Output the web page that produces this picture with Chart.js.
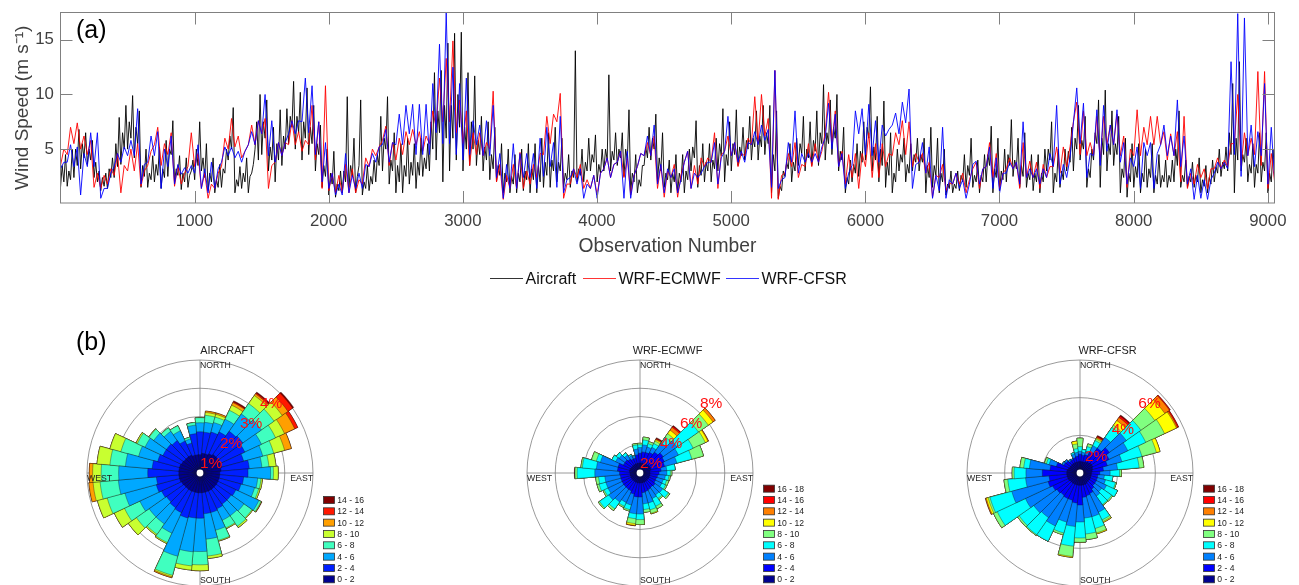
<!DOCTYPE html>
<html>
<head>
<meta charset="utf-8">
<script src="https://cdn.jsdelivr.net/npm/chart.js@4"></script>
<style>
html,body{margin:0;padding:0;background:#fff;width:1299px;height:585px;overflow:hidden}
canvas{position:absolute;display:block}
</style>
</head>
<body>
<canvas id="series" width="1299" height="300" style="left:0;top:0"></canvas>
<canvas id="rose1" width="300" height="260" style="left:70px;top:330px"></canvas>
<canvas id="rose2" width="300" height="260" style="left:510px;top:330px"></canvas>
<canvas id="rose3" width="300" height="260" style="left:950px;top:330px"></canvas>
<script>
const aircraft = [
1.5,3.5,2.0,4.5,1.6,3.0,2.2,5.0,2.4,5.0,3.5,6.8,3.2,5.5,4.2,6.5,3.6,5.0,4.0,5.8,2.4,3.8,2.0,3.0,1.2,2.4,1.6,2.8,1.4,3.2,2.4,4.2,2.4,5.5,3.4,7.9,3.6,6.5,5.0,9.0,
5.0,7.5,6.0,9.9,4.2,7.0,5.5,8.5,1.5,3.5,2.5,5.0,1.5,2.8,2.2,4.4,2.0,3.6,2.6,5.2,1.4,3.2,2.4,5.8,2.5,5.0,4.5,7.6,2.0,3.2,2.6,4.4,1.3,2.8,2.0,4.2,1.5,2.6,3.0,4.0,
2.2,5.0,3.5,7.5,3.0,4.2,2.4,5.5,1.2,2.8,2.0,4.2,1.0,2.2,1.5,3.6,1.5,3.2,2.8,5.0,4.0,6.2,5.0,8.8,1.0,2.2,1.6,3.4,1.4,2.8,2.0,4.2,1.0,2.5,2.8,3.6,5.0,7.5,4.0,10.0,
4.5,7.5,6.0,9.5,3.0,5.2,4.0,7.0,2.0,5.5,4.0,8.6,3.5,6.2,5.0,8.7,5.5,8.0,7.0,11.2,5.0,8.0,6.5,10.2,4.0,7.5,6.0,10.6,4.5,7.0,5.5,9.0,3.0,5.5,4.5,7.2,1.5,3.5,2.5,5.0,
0.8,2.8,1.8,4.8,0.6,1.8,1.2,3.0,1.0,3.0,2.0,9.8,1.5,3.5,2.5,6.0,1.0,2.5,3.5,9.5,0.8,2.0,1.4,3.5,1.2,2.5,1.8,4.0,2.0,4.5,3.5,8.0,3.0,6.0,5.0,9.8,1.8,4.0,3.0,6.5,
1.0,3.5,2.0,5.5,1.0,3.5,2.5,6.0,1.8,3.8,2.6,5.5,1.4,3.8,2.6,6.0,2.5,4.2,3.2,5.5,3.0,7.5,5.0,12.0,4.0,8.5,6.5,12.2,2.0,9.0,6.0,14.7,3.0,9.0,6.0,15.6,4.0,10.0,7.0,15.7,
3.0,7.0,5.0,12.0,3.5,7.5,5.0,11.7,3.5,5.8,4.5,8.0,3.0,5.2,4.0,7.5,2.2,4.5,3.2,7.0,2.0,3.5,2.6,5.5,1.0,2.8,2.0,5.0,1.0,2.5,1.8,4.5,1.0,2.8,2.0,5.0,1.2,3.0,2.2,5.5,
1.0,3.2,2.2,5.5,1.0,3.5,2.0,6.0,1.5,3.8,2.6,6.5,1.5,4.0,3.0,7.0,2.0,3.8,3.0,6.0,1.5,2.8,2.2,4.5,1.5,3.0,2.4,14.0,2.0,3.2,2.6,5.0,2.0,3.8,3.0,6.0,3.0,4.5,3.8,6.3,
2.0,3.6,2.8,5.0,3.0,5.0,4.0,11.8,3.0,4.8,4.0,6.5,3.5,5.0,4.2,6.5,2.5,5.0,4.0,8.6,1.0,2.8,2.0,4.5,1.0,2.2,1.6,3.5,3.5,5.2,4.2,7.0,4.0,6.0,5.0,8.2,2.0,4.2,3.0,6.5,
1.5,2.8,2.2,4.0,1.0,2.8,2.0,4.5,1.0,2.8,2.0,4.5,1.0,3.0,2.2,5.0,3.0,5.2,4.2,7.6,1.5,3.5,2.6,5.5,2.0,3.8,3.0,5.5,2.0,4.0,3.2,6.0,3.0,5.5,4.4,8.7,2.0,4.5,3.5,7.5,
3.0,5.5,4.5,8.6,3.5,5.2,4.4,7.0,4.0,5.8,5.0,8.0,4.0,6.0,5.2,8.5,4.0,6.2,5.2,9.0,4.5,6.5,5.5,9.0,1.0,4.5,3.0,8.5,0.5,1.6,1.2,3.0,2.5,3.8,3.2,5.5,2.0,3.8,3.0,6.0,
3.5,5.5,4.6,8.0,3.0,5.0,4.2,7.5,3.5,5.8,4.8,8.5,3.5,6.5,5.5,10.9,4.0,6.5,5.5,9.5,4.5,7.0,6.0,10.0,3.0,4.8,4.0,7.0,1.0,2.4,1.8,4.0,2.0,3.6,2.8,5.5,2.5,4.8,3.8,7.5,
4.0,7.0,6.0,10.7,3.0,5.2,4.0,8.0,2.0,5.0,3.5,9.4,1.5,3.8,2.6,6.5,1.0,2.8,2.0,5.0,3.0,4.5,3.8,6.0,2.0,3.6,2.8,5.5,3.0,4.5,3.8,6.0,3.0,4.5,3.8,6.0,1.0,3.5,2.4,7.0,
1.5,3.5,2.6,6.0,1.0,2.8,2.0,5.0,0.8,1.8,1.4,3.0,1.0,1.8,1.4,3.0,1.2,2.6,2.0,4.5,1.5,3.5,2.6,6.0,1.5,2.6,2.0,4.0,1.0,2.6,2.0,4.5,2.0,4.5,3.5,7.1,1.0,3.2,2.4,6.0,
1.2,3.0,2.2,5.0,2.0,4.5,3.5,7.7,2.5,4.0,3.2,6.0,1.5,3.5,2.5,6.5,1.5,2.8,2.2,4.5,1.2,2.8,2.0,4.5,1.0,2.8,2.0,5.0,3.0,5.0,4.0,7.5,1.0,2.8,2.0,5.0,1.5,3.0,2.2,5.0,
3.0,4.8,3.8,7.0,3.0,6.0,5.0,9.0,4.0,5.8,5.0,8.0,1.5,3.2,2.4,5.0,4.0,6.5,5.5,9.5,1.5,6.0,4.5,10.4,3.0,5.5,4.5,8.5,3.5,5.5,4.5,8.0,1.0,3.2,2.4,6.0,0.6,2.8,2.0,5.5,
1.5,3.4,2.4,5.5,1.0,2.8,2.0,5.0,1.5,3.2,2.4,5.5,1.0,2.6,1.8,4.5,1.5,2.6,2.0,4.0,1.5,2.6,2.0,4.0,2.0,5.0,3.5,8.5,1.5,2.6,2.0,4.0,1.5,2.5,2.0,3.8,1.5,2.6,2.0,4.2,
1.0,2.2,1.6,3.5,1.0,2.4,1.8,4.0,2.0,3.4,2.8,5.0,2.5,3.8,3.2,5.2,3.0,6.5,4.5,11.0,1.0,6.0,4.0,13.0,3.0,4.5,3.8,6.0,2.0,3.6,2.8,5.5,1.5,3.6,2.8,6.5,2.0,3.8,3.0,6.5,
1.0,2.8,2.0,5.0,3.0];
// Model series: two readings per 50 observations
const ecmwf = [
3.5,5.0,4.5,7.0,5.5,7.4,5.0,6.2,4.5,5.8,1.5,2.8,1.4,2.6,1.8,3.2,2.6,4.6,1.0,3.5,
3.0,5.0,3.0,5.5,1.6,3.0,3.5,4.8,5.4,7.0,3.5,5.5,4.5,6.5,1.6,3.5,1.8,2.8,3.4,6.5,
3.4,4.6,1.4,2.8,0.5,1.8,1.4,2.8,3.4,6.0,5.0,7.8,5.2,6.2,4.2,4.8,5.4,7.2,5.4,7.6,
6.4,7.8,1.4,3.5,3.8,5.6,4.4,5.6,5.4,7.6,5.4,6.6,4.8,5.8,5.4,9.0,4.0,7.5,1.4,10.8,
1.2,2.8,1.0,2.6,1.0,3.6,1.0,3.2,1.0,2.2,1.8,4.2,3.4,5.0,4.4,5.2,5.8,7.1,3.5,5.6,
4.0,6.0,4.5,6.6,5.4,6.8,5.4,6.6,4.8,6.2,5.5,8.5,7.0,11.5,7.5,13.3,7.5,14.9,6.5,9.5,
5.5,8.5,3.5,6.5,4.5,6.5,4.4,5.6,5.0,10.3,2.0,3.6,0.4,2.6,1.4,3.6,1.4,4.7,1.4,3.0,
1.8,3.6,2.4,4.6,4.5,8.0,5.5,8.2,7.5,10.1,0.5,1.8,1.8,3.2,2.4,3.6,1.4,2.2,1.4,2.6,
0.8,2.8,3.2,4.2,2.4,3.6,3.8,4.8,2.4,4.2,0.8,2.6,3.4,4.6,4.4,5.6,4.4,6.2,1.4,3.5,
0.6,3.0,2.4,3.6,0.6,2.6,3.8,4.8,1.4,3.5,1.8,4.2,3.4,4.2,3.8,6.5,1.4,4.5,4.8,6.2,
4.4,5.6,3.4,4.6,4.4,6.0,5.4,9.8,5.5,10.0,6.2,7.8,0.5,12.2,0.4,2.6,2.8,4.6,3.4,5.6,
2.4,3.6,3.4,5.5,3.4,5.5,3.8,4.8,6.5,10.2,5.5,8.5,3.4,4.8,1.8,4.5,2.4,4.6,1.4,4.6,
3.4,6.5,2.4,5.5,2.4,5.5,3.4,4.6,4.4,6.5,5.4,7.6,4.5,7.5,3.4,4.6,3.8,4.6,2.8,3.8,
0.6,2.6,2.4,3.6,1.2,1.9,1.8,2.8,1.8,2.8,1.0,2.2,3.2,3.8,1.4,3.2,3.4,5.6,2.4,4.6,
1.4,2.8,3.2,4.2,3.2,3.8,1.4,5.6,2.4,3.9,2.4,3.8,1.4,3.6,2.4,3.4,3.4,5.2,2.8,5.2,
3.4,5.2,7.5,9.3,4.5,8.5,4.4,5.6,4.4,8.0,4.0,8.0,5.4,7.2,5.4,8.2,4.4,6.2,1.5,5.0,
4.4,8.6,4.4,7.0,5.4,8.0,5.4,8.0,5.4,6.6,4.0,6.4,4.4,6.6,2.0,8.0,1.4,2.8,1.8,3.6,
2.4,3.2,1.4,3.2,3.2,4.2,3.2,4.0,3.4,5.5,5.5,10.0,3.5,6.5,4.4,6.0,4.5,12.1,3.5,12.1,
1.4,4.6,2.0,4.2,2.5];
const cfsr = [
3.2,3.8,3.8,5.4,3.4,5.2,0.8,4.6,3.4,6.5,3.4,6.5,0.5,1.4,1.4,2.8,3.4,4.6,3.8,5.2,
4.4,5.8,4.4,8.7,1.8,3.6,3.8,6.2,4.4,6.6,1.4,5.0,3.4,6.2,1.8,3.6,2.7,3.3,2.8,3.5,
2.8,5.4,1.4,3.2,1.0,3.8,1.4,3.2,3.8,5.2,4.4,5.2,4.2,4.8,3.8,4.8,5.4,6.6,5.4,7.6,
6.4,10.0,4.4,7.6,3.8,5.6,4.4,5.6,6.4,7.6,6.4,7.6,7.5,11.5,6.5,10.8,4.5,7.5,2.0,5.6,
1.4,2.8,0.8,1.8,0.8,4.6,1.0,2.6,1.4,2.8,1.4,3.6,3.4,4.6,3.8,5.2,5.4,6.8,3.8,5.6,
5.4,8.2,5.4,9.0,6.4,9.1,4.5,9.1,4.5,9.1,4.5,11.0,6.5,14.6,5.5,17.5,5.5,12.5,4.5,11.0,
4.0,11.5,4.5,7.6,5.4,7.2,4.4,7.6,4.4,9.0,2.4,4.6,0.5,3.6,1.4,5.5,1.4,4.6,2.4,4.6,
2.4,4.6,1.4,6.0,2.5,7.0,3.4,5.6,1.5,8.0,1.0,2.2,2.4,3.2,1.8,3.2,0.5,1.8,1.4,2.6,
0.5,2.8,3.2,4.2,2.4,3.6,3.8,4.8,0.5,4.8,0.5,2.6,3.4,4.6,4.4,6.2,4.4,7.2,1.8,3.6,
1.0,3.2,2.4,3.2,1.0,2.2,3.8,4.8,1.4,2.8,2.4,2.8,3.4,3.8,3.8,5.6,1.8,4.2,4.8,8.0,
4.4,5.6,3.8,4.8,3.8,5.6,5.4,6.6,5.4,7.2,5.8,6.8,1.5,12.2,1.4,2.2,2.4,5.6,3.8,8.5,
2.8,4.6,3.8,4.6,3.8,4.6,3.8,5.2,6.0,9.2,5.0,8.2,3.4,4.6,1.4,2.8,3.5,8.5,6.4,8.7,
4.5,9.1,4.4,7.6,3.8,7.2,6.2,6.8,7.2,8.3,6.4,9.3,7.4,10.5,1.4,3.6,3.8,5.6,2.8,5.2,
0.5,2.6,1.2,7.0,0.5,2.2,1.8,2.8,1.4,2.2,0.5,1.8,3.6,3.9,1.8,3.2,3.4,5.2,1.4,4.2,
1.0,2.8,2.8,3.8,3.2,3.8,1.8,7.5,2.4,3.2,2.4,3.2,1.8,3.2,2.4,4.6,3.4,9.0,1.8,3.6,
2.4,4.2,7.4,10.6,5.5,9.2,2.4,4.6,4.4,8.6,3.5,9.0,4.8,7.2,5.4,8.6,3.8,5.6,1.8,4.2,
3.4,5.2,1.4,5.6,4.4,5.6,1.4,4.6,5.4,7.2,4.4,6.2,4.4,9.5,3.4,6.2,1.8,3.2,0.4,2.6,
0.5,2.2,0.4,2.2,2.8,3.8,3.2,3.8,3.2,13.0,4.5,17.4,2.5,17.0,4.4,7.2,3.4,6.6,4.4,11.0,
1.8,7.0,2.2,6.0,2.2];
const seriesSteps = [12.5, 25, 25];
const xTickValues = [1000,2000,3000,4000,5000,6000,7000,8000,9000];
const yTickValues = [5,10,15];
const seriesNames = ['Aircraft','WRF-ECMWF','WRF-CFSR'];
const seriesColors = ['#000000','#ff0000','#0000ff'];

// Panel (b): cumulative % per 10-degree direction (N clockwise), one entry per speed bin reached
const aircraftRose = [
[.65,1.46,1.78,1.96],[.7,1.45,1.8,2.05,2.15,2.2],[.7,1.5,1.85,2.05,2.15,2.2],[.75,1.6,2.1,2.45,2.65,2.75,2.78,2.82],
[.8,1.8,2.55,3.0,3.35,3.42,3.46,3.5],[.8,1.85,2.65,3.2,3.55,3.8,4.0,4.05],[.8,1.75,2.4,2.95,3.3,3.7,3.82],[.8,1.6,2.3,2.7,3.1,3.35],
[.75,1.75,2.2,2.45,2.7],[.7,1.7,2.5,2.6,2.77],[.7,1.55,2.05,2.17,2.22],[.7,1.5,2.0,2.15,2.2],
[.7,1.4,2.3,2.38,2.4,2.4,2.4,2.42],[.7,1.35,1.9,2.25,2.28],[.7,1.35,1.85,2.3,2.36],[.7,1.4,1.85,2.15,2.18],
[.7,1.45,2.1,2.47,2.5],[.7,1.45,2.35,2.95,3.04],[.7,1.6,2.78,3.25,3.46],[.7,1.6,2.8,3.3,3.45],
[.7,1.65,3.05,3.75,3.8,3.84],[.7,1.55,2.35,2.72,2.76],[.7,1.5,2.2,2.65,2.7],[.7,1.45,2.2,2.75,3.1],
[.72,1.5,2.35,2.95,3.35],[.75,1.6,2.75,3.4,3.76],[.75,1.55,2.9,3.55,3.8,3.95],[.75,1.85,2.88,3.5,3.8,3.92],
[.75,1.7,2.65,3.2,3.66],[.75,1.55,2.25,2.9,3.3],[.72,1.45,2.15,2.45,2.5],[.7,1.45,2.0,2.2,2.22],
[.7,1.4,1.8,1.95],[.7,1.25,1.65,1.85],[.65,1.1,1.25,1.32],[.65,1.4,1.7,1.8]];
const ecmwfRose = [
[.7,1.4,1.8,2.0,2.1],[.7,1.5,2.0,2.35,2.55],[.7,1.5,1.9,2.15,2.3],[.7,1.6,2.0,2.3,2.5,2.6,2.65,2.7,2.76],
[.75,1.8,2.6,3.1,3.4,3.7,3.95,4.05,4.1],[.8,2.0,3.2,5.05,5.9,6.3,6.5],[.8,1.9,3.0,4.15,5.1,5.3,5.35],[.8,1.8,2.7,3.8,4.65],
[.7,1.5,1.9,2.5],[.7,1.35,1.9,2.15,2.25],[.7,1.25,1.8,2.05,2.15],[.7,1.2,1.7,1.95,2.1],
[.7,1.2,1.7,2.0,2.1],[.7,1.3,1.95,2.45,2.57],[.7,1.25,1.9,2.2,2.3],[.7,1.3,2.0,2.6,2.8],
[.7,1.35,2.2,2.7,2.95,3.0],[.7,1.4,2.2,2.6,2.8],[.7,1.7,2.9,3.3,3.65],[.7,1.7,2.9,3.25,3.6,3.72,3.75],
[.7,1.55,2.35,2.7,2.8],[.7,1.4,2.3,2.6,2.7],[.7,1.4,2.5,3.1,3.25],[.7,1.4,2.7,3.5,3.6],
[.7,1.4,2.5,2.8,2.9],[.7,1.4,2.5,3.0,3.15],[.7,1.4,2.5,2.95,3.15],[.7,1.45,3.2,4.45,4.6,4.6,4.6,4.6,4.65],
[.75,1.6,3.1,4.1,4.2],[.75,1.6,2.9,3.2,3.55],[.7,1.3,1.9,2.2],[.7,1.3,1.8,2.05],
[.7,1.2,1.55,1.75],[.7,1.1,1.35,1.45],[.7,1.1,1.25,1.3],[.7,1.3,1.7,2.0,2.1]];
const cfsrRose = [
[.6,1.0,1.15,1.4,1.85],[.6,.95,1.1,1.25],[.6,1.0,1.2,1.45,1.6],[.65,1.25,1.6,1.9,2.0,2.05,2.1,2.15,2.2],
[.7,1.6,2.3,2.95,3.1,3.4,3.6,3.7,3.76],[.75,1.9,3.0,3.95,4.85,5.5,5.8,5.85],[.75,1.7,2.8,3.85,4.95,5.65,5.72,5.78],[.7,1.5,2.3,3.4,4.2,4.4],
[.65,1.25,2.0,3.15,3.4],[.6,1.05,1.6,2.1,2.2],[.6,.95,1.3,1.75],[.6,.95,1.4,1.95,2.0],
[.6,.95,1.55,2.2],[.6,.95,1.4,2.05,2.12],[.6,1.05,1.5,2.05,2.1],[.65,1.2,2.3,2.75,2.85,2.9],
[.65,1.25,2.4,3.05,3.3,3.35],[.65,1.3,2.4,3.25,3.55],[.65,1.7,2.6,3.45,3.68],[.65,1.6,2.85,3.9,4.45,4.5],
[.65,1.5,2.7,3.3,3.4],[.65,1.5,3.1,4.0],[.65,1.45,2.9,4.0,4.05],[.65,1.5,3.0,3.95,4.05],
[.7,1.6,3.2,4.85,5.07],[.7,1.75,3.75,4.95,5.05,5.15,5.2],[.7,1.65,2.9,3.85,4.05],[.7,2.0,2.87,3.5,3.6],
[.7,1.6,2.7,3.0,3.2],[.65,1.3,1.7,1.85,1.95],[.6,.95,1.05],[.6,.9,1.0],
[.6,.8,.88],[.6,.8,.85],[.6,.85,1.05,1.13],[.6,.9,1.1,1.3,1.55,1.7]];
const directionLabels = ['0','10','20','30','40','50','60','70','80','90','100','110','120','130','140','150','160','170','180','190','200','210','220','230','240','250','260','270','280','290','300','310','320','330','340','350'];
const aircraftBins = ['0 - 2','2 - 4','4 - 6','6 - 8','8 - 10','10 - 12','12 - 14','14 - 16'];
const aircraftColors = ['#00008f','#0020ff','#00a8ff','#40ffbf','#c8ff30','#ff9f00','#ff1800','#800000'];
const modelBins = ['0 - 2','2 - 4','4 - 6','6 - 8','8 - 10','10 - 12','12 - 14','14 - 16','16 - 18'];
const modelColors = ['#00008f','#0000ff','#0080ff','#00ffff','#80ff80','#ffff00','#ff8000','#ff0000','#800000'];
const aircraftRings = [1,2,3,4];
const ecmwfRings = [2,4,6,8];
const cfsrRings = [2,4,6];

const FONT = '"Liberation Sans", Arial, sans-serif';
const GREY = '#808080';

const framePlugin = {
  id: 'frame',
  afterDraw(chart) {
    const {ctx, chartArea: a, scales: {x, y}} = chart;
    ctx.save();
    ctx.strokeStyle = GREY; ctx.lineWidth = 1;
    ctx.strokeRect(a.left, a.top, a.right - a.left, a.bottom - a.top);
    ctx.beginPath();
    x.ticks.forEach(t => {
      const p = Math.round(x.getPixelForValue(t.value)) + .5;
      ctx.moveTo(p, a.bottom); ctx.lineTo(p, a.bottom - 12);
      ctx.moveTo(p, a.top); ctx.lineTo(p, a.top + 12);
    });
    y.ticks.forEach(t => {
      const p = Math.round(y.getPixelForValue(t.value)) + .5;
      ctx.moveTo(a.left, p); ctx.lineTo(a.left + 12, p);
      ctx.moveTo(a.right, p); ctx.lineTo(a.right - 12, p);
    });
    ctx.stroke();
    ctx.fillStyle = '#000';
    ctx.font = '25px ' + FONT;
    ctx.textBaseline = 'middle';
    ctx.fillText('(a)', 76, 31);
    // legend row
    const lineStarts = [490, 583, 726];
    ctx.font = '16px ' + FONT;
    seriesNames.forEach((n, i) => {
      ctx.strokeStyle = seriesColors[i]; ctx.lineWidth = 0.8;
      ctx.beginPath(); ctx.moveTo(lineStarts[i], 278.5); ctx.lineTo(lineStarts[i] + 33, 278.5); ctx.stroke();
      ctx.fillStyle = '#111';
      ctx.fillText(n, lineStarts[i] + 35.5, 279.5);
    });
    ctx.restore();
  }
};

new Chart(document.getElementById('series'), {
  type: 'line',
  data: {datasets: [aircraft, ecmwf, cfsr].map((vals, i) => ({
    label: seriesNames[i],
    data: vals.map((v, k) => ({x: 1 + k * seriesSteps[i], y: v})),
    borderColor: seriesColors[i],
    backgroundColor: seriesColors[i],
    borderWidth: 0.9,
    pointRadius: 0,
    tension: 0,
    order: 3 - i
  }))},
  options: {
    responsive: false,
    animation: false,
    events: [],
    layout: {autoPadding: false, padding: {left: 0, right: 24.5, top: 12.5, bottom: 39}},
    plugins: {tooltip: {enabled: false}, legend: {display: false}},
    scales: {
      x: {
        type: 'linear', min: 1, max: 9050,
        afterBuildTicks(s) { s.ticks = xTickValues.map(v => ({value: v})); },
        afterFit(s) { s.height = 58; },
        grid: {display: false, drawTicks: false},
        border: {display: false},
        ticks: {autoSkip: false, maxRotation: 0, padding: 8, color: '#404040', font: {family: FONT, size: 16.8}, callback: v => String(v)},
        title: {display: true, text: 'Observation Number', color: '#404040', font: {family: FONT, size: 19.3}, padding: {top: 0, bottom: 3}}
      },
      y: {
        min: 0.07, max: 17.5,
        afterBuildTicks(s) { s.ticks = yTickValues.map(v => ({value: v})); },
        afterFit(s) { s.width = 60.5; },
        grid: {display: false, drawTicks: false},
        border: {display: false},
        ticks: {autoSkip: false, padding: 2, color: '#404040', font: {family: FONT, size: 16.8}, callback: v => v + ' '},
        title: {display: true, text: 'Wind Speed (m s\u207B\u00B9)', color: '#404040', font: {family: FONT, size: 19}, padding: {top: 11, bottom: 0}}
      }
    }
  },
  plugins: [framePlugin]
});

function makeRose(id, rows, title, bins, colors, rings, labelShift, panelTag) {
  const top = rings[rings.length - 1];
  const step = rings[0];
  const rosePlugin = {
    id: 'roseDecor',
    beforeDatasetsDraw(chart) {
      const {ctx} = chart, s = chart.scales.r;
      const R = s.getDistanceFromCenterForValue(top);
      ctx.save();
      ctx.strokeStyle = GREY; ctx.lineWidth = 0.8;
      ctx.beginPath();
      ctx.moveTo(s.xCenter - R, s.yCenter); ctx.lineTo(s.xCenter + R, s.yCenter);
      ctx.moveTo(s.xCenter, s.yCenter - R); ctx.lineTo(s.xCenter, s.yCenter + R);
      ctx.stroke();
      ctx.restore();
    },
    afterDatasetsDraw(chart) {
      const {ctx} = chart, s = chart.scales.r;
      const cx = s.xCenter, cy = s.yCenter;
      const R = s.getDistanceFromCenterForValue(top);
      ctx.save();
      ctx.fillStyle = '#fff';
      ctx.beginPath(); ctx.arc(cx, cy, 3.4, 0, Math.PI * 2); ctx.fill();

      ctx.fillStyle = '#ff1010';
      ctx.font = '15.5px ' + FONT;
      ctx.textBaseline = 'alphabetic'; ctx.textAlign = 'left';
      rings.forEach(v => {
        const d = s.getDistanceFromCenterForValue(v - step) * Math.SQRT1_2;
        ctx.fillText(v + '%', cx + d + labelShift[0], cy - d + labelShift[1]);
      });

      ctx.fillStyle = '#222';
      ctx.textBaseline = 'middle';
      ctx.font = '8.7px ' + FONT;
      ctx.fillText('NORTH', cx, cy - R + 5.7);
      ctx.fillText('SOUTH', cx, cy + R - 5);
      ctx.fillText('WEST', cx - R, cy + 6);
      ctx.textAlign = 'right';
      ctx.fillText('EAST', cx + R, cy + 6);
      ctx.textAlign = 'center';
      ctx.font = '10.9px ' + FONT;
      ctx.fillText(title, cx + 27.5, cy - 122);

      ctx.textAlign = 'left';
      ctx.font = '8.6px ' + FONT;
      const rowH = 11.33, bottomRow = 249.3;
      bins.forEach((b, i) => {
        const yy = bottomRow - i * rowH;
        ctx.fillStyle = colors[i];
        ctx.fillRect(253.5, yy - 3.5, 11, 7);
        ctx.strokeStyle = '#333'; ctx.lineWidth = 0.8;
        ctx.strokeRect(253.5, yy - 3.5, 11, 7);
        ctx.fillStyle = '#222';
        ctx.fillText(b, 267.3, yy + .5);
      });
      if (panelTag) {
        ctx.fillStyle = '#000';
        ctx.font = '25px ' + FONT;
        ctx.fillText(panelTag, 6, 13);
      }
      ctx.restore();
    }
  };
  new Chart(document.getElementById(id), {
    type: 'polarArea',
    data: {
      labels: directionLabels,
      datasets: bins.map((b, k) => ({
        label: b,
        data: rows.map(r => r[Math.min(k, r.length - 1)]),
        backgroundColor: colors[k],
        borderColor: '#111',
        borderWidth: 0.35
      }))
    },
    options: {
      responsive: false,
      animation: false,
      events: [],
      layout: {autoPadding: false, padding: {left: 17, right: 57, top: 30, bottom: 4}},
      plugins: {legend: {display: false}, tooltip: {enabled: false}},
      scales: {
        r: {
          min: 0, max: top, startAngle: -5,
          afterBuildTicks(s) { s.ticks = [0].concat(rings).map(v => ({value: v})); },
          ticks: {display: false},
          grid: {color: GREY, lineWidth: 0.8},
          angleLines: {display: false},
          pointLabels: {display: false}
        }
      }
    },
    plugins: [rosePlugin]
  });
}

makeRose('rose1', aircraftRose, 'AIRCRAFT', aircraftBins, aircraftColors, aircraftRings, [0, -5], '(b)');
makeRose('rose2', ecmwfRose, 'WRF-ECMWF', modelBins, modelColors, ecmwfRings, [0, -5.5], null);
makeRose('rose3', cfsrRose, 'WRF-CFSR', modelBins, modelColors, cfsrRings, [5, -12], null);
</script>
</body>
</html>
